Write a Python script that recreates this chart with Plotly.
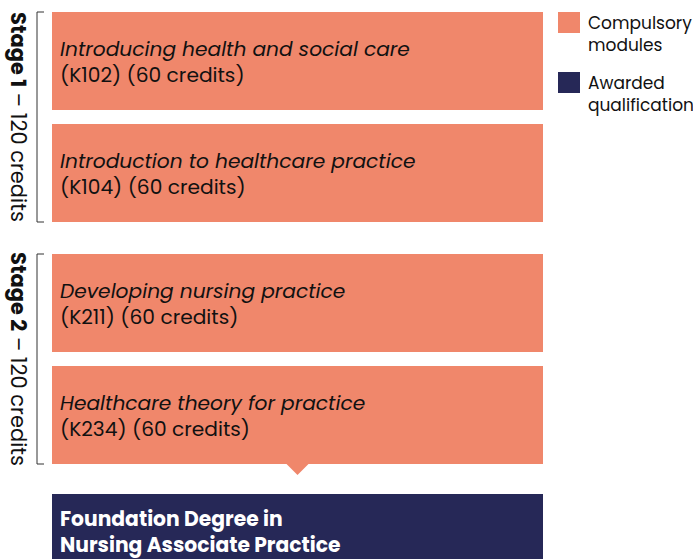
import plotly.graph_objects as go

# data
stages = ["Stage 1", "Stage 2"]
stage_credits = [120, 120]
module_titles = [
    "Introducing health and social care",
    "Introduction to healthcare practice",
    "Developing nursing practice",
    "Healthcare theory for practice",
]
module_codes = ["K102", "K104", "K211", "K234"]
module_credits = [60, 60, 60, 60]
module_stage = [0, 0, 1, 1]
qualification = ["Foundation Degree in", "Nursing Associate Practice"]
legend_labels = ["Compulsory<br>modules", "Awarded<br>qualification"]

SALMON = "#F0876B"
NAVY = "#262857"
FONT = "Poppins, 'Open Sans', sans-serif"

W, H = 693, 559
X0, X1 = 52, 543
BOX_H, GAP, STAGE_GAP, TOP = 98, 14, 32, 12

fig = go.Figure()
shapes, annotations = [], []

# module boxes
y = TOP
box_pos = []
for i, title in enumerate(module_titles):
    if i > 0:
        y += STAGE_GAP if module_stage[i] != module_stage[i - 1] else GAP
    box_pos.append((y, y + BOX_H))
    shapes.append(dict(type="rect", x0=X0, x1=X1, y0=y, y1=y + BOX_H,
                       fillcolor=SALMON, line_width=0, layer="below"))
    annotations.append(dict(
        x=X0 + 6, y=y + BOX_H / 2 + 1, xanchor="left", yanchor="middle", align="left",
        text=f"<i>{title}</i><br>({module_codes[i]}) ({module_credits[i]} credits)",
        font=dict(family=FONT, size=20.2, color="#111"), showarrow=False))
    y += BOX_H

# pointer triangle under last module
last_bottom = box_pos[-1][1]
cx = (X0 + X1) / 2
shapes.append(dict(type="path", path=f"M {cx-11} {last_bottom} L {cx+11} {last_bottom} L {cx} {last_bottom+11} Z",
                   fillcolor=SALMON, line_width=0))

# qualification box
q_top = last_bottom + 30
shapes.append(dict(type="rect", x0=X0, x1=X1, y0=q_top, y1=q_top + 80,
                   fillcolor=NAVY, line_width=0))
annotations.append(dict(
    x=X0 + 6, y=q_top + 37.5, xanchor="left", yanchor="middle", align="left",
    text="<b>" + "<br>".join(qualification) + "</b>",
    font=dict(family=FONT, size=20.3, color="white"), showarrow=False))

# stage brackets and labels
for s, name in enumerate(stages):
    idx = [i for i, m in enumerate(module_stage) if m == s]
    top = box_pos[idx[0]][0]
    bot = box_pos[idx[-1]][1]
    shapes.append(dict(type="path", path=f"M 44 {top} L 37 {top} L 37 {bot} L 44 {bot}",
                       line=dict(color="#333", width=1)))
    annotations.append(dict(
        x=19, y=(top + bot) / 2, textangle=90, xanchor="center", yanchor="middle",
        text=f"<b>{name}</b> – {stage_credits[s]} credits",
        font=dict(family=FONT, size=21, color="#111"), showarrow=False))

# legend
for k, (label, col) in enumerate(zip(legend_labels, [SALMON, NAVY])):
    ly = 12 + k * 60
    shapes.append(dict(type="rect", x0=558, x1=580, y0=ly, y1=ly + 21,
                       fillcolor=col, line_width=0))
    annotations.append(dict(
        x=586, y=ly + 22, xanchor="left", yanchor="middle", align="left",
        text=label, font=dict(family=FONT, size=17, color="#111"), showarrow=False))

fig.update_layout(
    width=W, height=H,
    margin=dict(l=0, r=0, t=0, b=0),
    paper_bgcolor="white", plot_bgcolor="white",
    xaxis=dict(range=[0, W], visible=False, fixedrange=True),
    yaxis=dict(range=[H, 0], visible=False, fixedrange=True),
    shapes=shapes, annotations=annotations,
    showlegend=False,
)

fig.write_html("out.html", config={"displayModeBar": False},
               post_script="document.body.style.margin='0';document.body.style.overflow='hidden';")
